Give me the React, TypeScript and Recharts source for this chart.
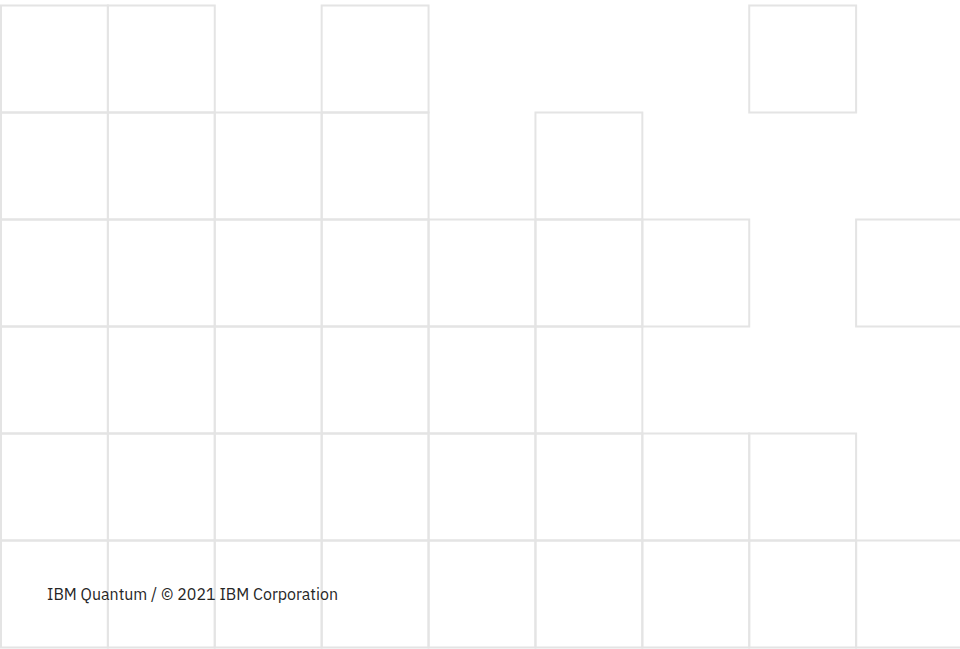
import { ComposedChart, XAxis, YAxis, ReferenceArea, Scatter } from "recharts";

// which grid columns (0-8) are drawn in each row (0 = top)
const row0 = [0, 1, 3, 7];
const row1 = [0, 1, 2, 3, 5];
const row2 = [0, 1, 2, 3, 4, 5, 6, 8];
const row3 = [0, 1, 2, 3, 4, 5];
const row4 = [0, 1, 2, 3, 4, 5, 6, 7];
const row5 = [0, 1, 2, 3, 4, 5, 6, 7, 8];

const rows = [row0, row1, row2, row3, row4, row5];
const columnCount = 9;

const footer = "IBM Quantum / © 2021 IBM Corporation";

const cells = rows.flatMap((cols, r) =>
  cols.map((c) => ({ row: r, col: c, x: c + 0.5, y: r + 0.5 }))
);

const Empty = () => <g />;

function App() {
  return (
    <div
      style={{
        position: "absolute",
        left: 0,
        top: 0,
        width: 960,
        height: 649,
        overflow: "hidden",
        background: "#fff",
      }}
    >
      <ComposedChart
        width={966}
        height={650}
        data={cells}
        margin={{ top: 5.5, right: 3, bottom: 2.5, left: 1 }}
      >
        <XAxis
          type="number"
          dataKey="x"
          domain={[0, columnCount]}
          allowDataOverflow
          hide
        />
        <YAxis
          type="number"
          dataKey="y"
          domain={[0, rows.length]}
          allowDataOverflow
          reversed
          hide
        />
        <Scatter
          data={cells}
          dataKey="y"
          shape={Empty}
          isAnimationActive={false}
        />
        {cells.map((cell) => (
          <ReferenceArea
            key={`${cell.row}-${cell.col}`}
            x1={cell.col}
            x2={cell.col + 1}
            y1={cell.row}
            y2={cell.row + 1}
            fill="none"
            fillOpacity={0}
            stroke="#e4e4e4"
            strokeWidth={2}
            ifOverflow="visible"
          />
        ))}
      </ComposedChart>
      <div
        style={{
          position: "absolute",
          left: 47,
          top: 584,
          fontFamily: "'IBM Plex Sans', Inter, 'Noto Sans', sans-serif",
          fontSize: 16,
          color: "#262626",
          whiteSpace: "nowrap",
          lineHeight: "20px",
        }}
      >
        {footer}
      </div>
    </div>
  );
}

export default App;
